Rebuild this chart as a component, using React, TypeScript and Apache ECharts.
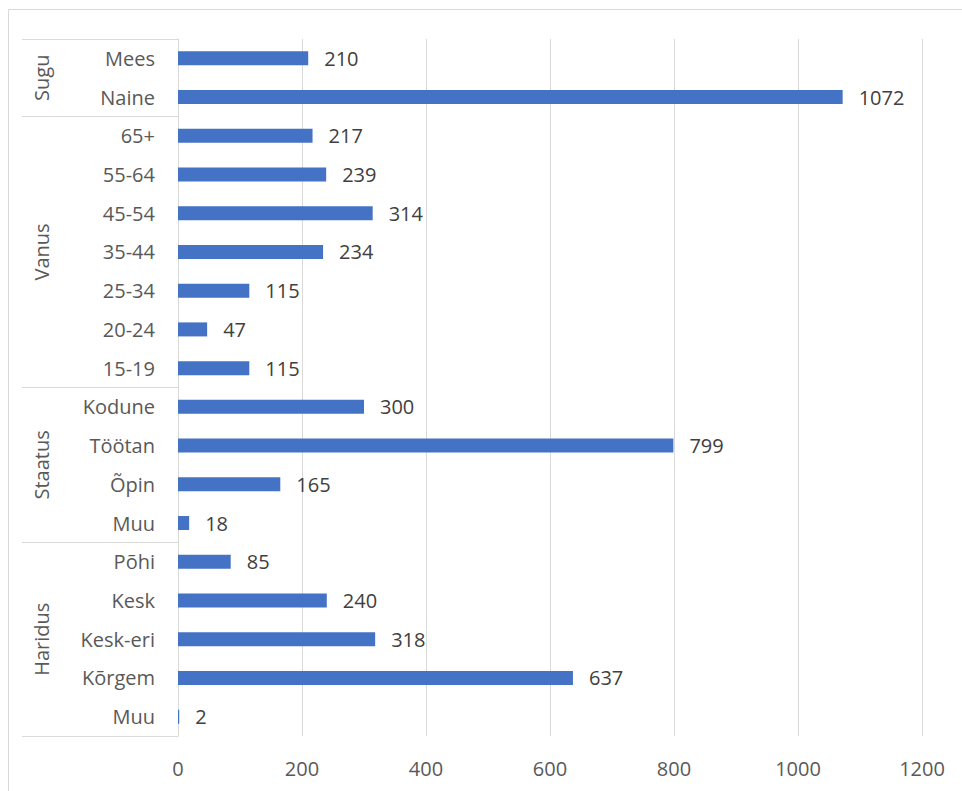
import React, { useEffect, useRef } from "react";
import * as echarts from "echarts";

const categories = [
  "Mees", "Naine",
  "65+", "55-64", "45-54", "35-44", "25-34", "20-24", "15-19",
  "Kodune", "Töötan", "Õpin", "Muu",
  "Põhi", "Kesk", "Kesk-eri", "Kõrgem", "Muu",
];
const values = [210, 1072, 217, 239, 314, 234, 115, 47, 115, 300, 799, 165, 18, 85, 240, 318, 637, 2];
const groupNames = ["Sugu", "Vanus", "Staatus", "Haridus"];
const groupSizes = [2, 7, 4, 5];
const xMin = 0;
const xMax = 1200;
const xInterval = 200;

export default function App() {
  const ref = useRef<HTMLDivElement>(null);
  useEffect(() => {
    const chart = echarts.init(ref.current!, null, { renderer: "svg" });
    const font = "'Open Sans', sans-serif";
    const gridColor = "#d9d9d9";
    chart.setOption({
      animation: false,
      backgroundColor: "#ffffff",
      grid: { left: 178, right: 40, top: 39, bottom: 55 },
      xAxis: {
        type: "value",
        min: xMin,
        max: xMax,
        interval: xInterval,
        axisLine: { show: false },
        axisTick: { show: false },
        splitLine: { show: true, lineStyle: { color: gridColor, width: 1 } },
        axisLabel: {
          color: "#595959",
          fontSize: 20,
          fontFamily: font,
          margin: 22,
          formatter: (v: number) => String(v),
        },
      },
      yAxis: {
        type: "category",
        inverse: true,
        data: categories,
        axisLine: { show: true, lineStyle: { color: gridColor, width: 1 } },
        axisTick: { show: false },
        axisLabel: { color: "#595959", fontSize: 20, fontFamily: font, margin: 23 },
      },
      series: [
        {
          type: "bar",
          data: values,
          barWidth: 14,
          itemStyle: { color: "#4472C4" },
          label: {
            show: true,
            position: "right",
            distance: 16,
            color: "#404040",
            fontSize: 20,
            fontFamily: font,
          },
        },
      ],
    });

    const y0 = chart.convertToPixel({ yAxisIndex: 0 }, 0) as number;
    const y1 = chart.convertToPixel({ yAxisIndex: 0 }, 1) as number;
    const band = y1 - y0;
    const axisX = chart.convertToPixel({ xAxisIndex: 0 }, xMin) as number;
    const boundary = (i: number) => y0 - band / 2 + band * i;
    const W = chart.getWidth();
    const H = chart.getHeight();

    const elements: any[] = [
      {
        type: "line",
        shape: { x1: 8.5, y1: 9.5, x2: W, y2: 9.5 },
        style: { stroke: gridColor, lineWidth: 1 },
        silent: true,
      },
      {
        type: "line",
        shape: { x1: 8.5, y1: 9.5, x2: 8.5, y2: H },
        style: { stroke: gridColor, lineWidth: 1 },
        silent: true,
      },
    ];
    let start = 0;
    const bounds = [0];
    groupSizes.forEach((s) => {
      start += s;
      bounds.push(start);
    });
    bounds.forEach((b) => {
      const y = Math.round(boundary(b)) + 0.5;
      elements.push({
        type: "line",
        shape: { x1: 22, y1: y, x2: axisX, y2: y },
        style: { stroke: gridColor, lineWidth: 1 },
        silent: true,
      });
    });
    groupNames.forEach((name, gi) => {
      const cy = (boundary(bounds[gi]) + boundary(bounds[gi + 1])) / 2;
      elements.push({
        type: "text",
        x: 41,
        y: cy,
        rotation: Math.PI / 2,
        style: {
          text: name,
          fill: "#595959",
          font: `20px ${font}`,
          align: "center",
          verticalAlign: "middle",
        },
        silent: true,
      });
    });
    chart.setOption({ graphic: { elements } });

    return () => chart.dispose();
  }, []);
  return (
    <div
      ref={ref}
      style={{ position: "fixed", left: 0, top: 0, width: 962, height: 791, background: "#fff" }}
    />
  );
}
